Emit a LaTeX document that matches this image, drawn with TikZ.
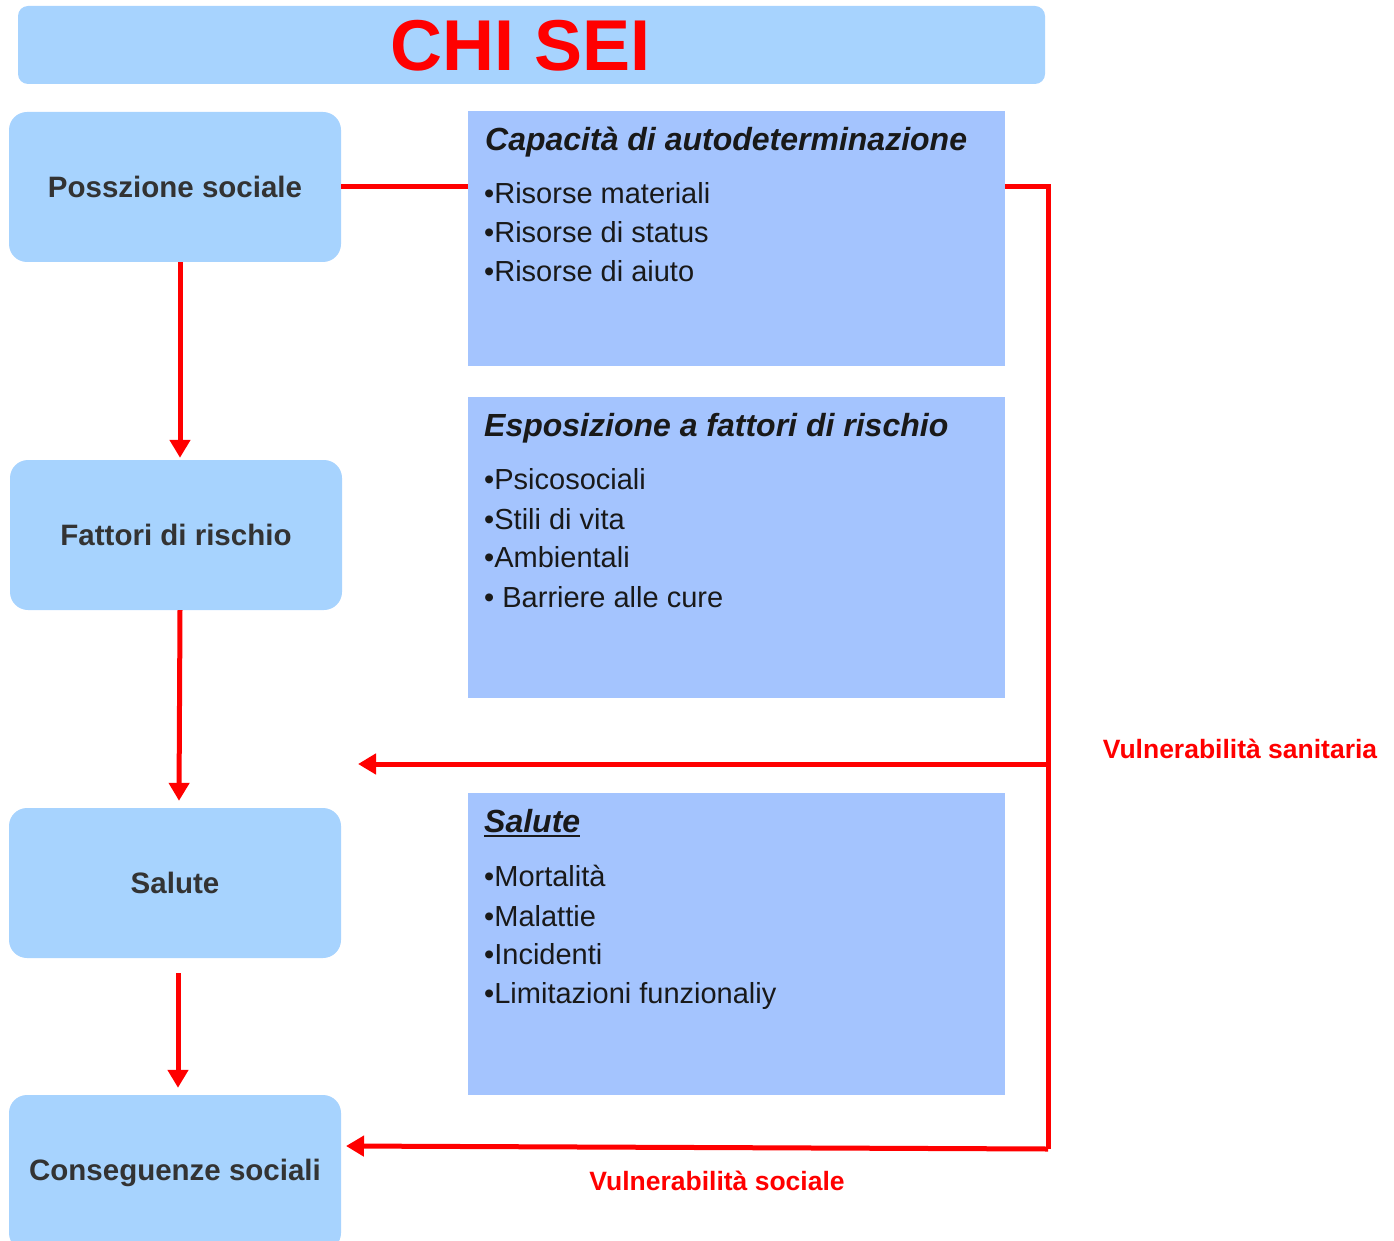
\documentclass[tikz,border=0pt]{standalone}
\usepackage{fontspec}
\setmainfont{Liberation Sans}
\usetikzlibrary{arrows.meta}
\definecolor{boxleft}{HTML}{A7D3FE}
\definecolor{boxright}{HTML}{A4C4FE}
\definecolor{redline}{HTML}{FF0000}
\definecolor{labelgray}{HTML}{333333}
\tikzset{
	sidebox/.style={fill=boxleft, rounded corners=18pt, minimum width=332pt, minimum height=150pt, inner sep=0pt, font=\fontsize{29.5}{33}\selectfont\bfseries, text=labelgray},
	listbox/.style={fill=boxright, minimum width=537pt, inner sep=0pt, anchor=north west},
	listhead/.style={anchor=base west, inner sep=0pt, font=\fontsize{32}{36}\selectfont\bfseries\itshape, text=black!90},
	listitem/.style={anchor=base west, inner sep=0pt, font=\fontsize{29}{33}\selectfont, text=black!90},
	redlink/.style={draw=redline, line width=5pt},
	redarrow/.style={redlink, -{Triangle[length=18pt,width=20pt]}},
	vulnlabel/.style={inner sep=0pt, font=\fontsize{26.5}{30}\selectfont\bfseries, text=redline}
}

\begin{document}
\begin{tikzpicture}[x=1pt, y=-1pt]
			%%%%% START %%%%%
			\useasboundingbox (0, 0) rectangle (1394, 1241);
			
			\node[fill=boxleft, rounded corners=10pt, minimum width=1027pt, minimum height=78pt, inner sep=0pt] (titlebar) at (531.5, 45) {};
			\node[inner sep=0pt, font=\fontsize{72}{80}\selectfont\bfseries, text=redline] (chisei) at (521, 46) {CHI SEI};
			
			\node[sidebox] (posizione) at (175, 187) {Posszione sociale};
			\node[sidebox] (fattori) at (176, 535) {Fattori di rischio};
			\node[sidebox] (salute) at (175, 883) {Salute};
			\node[sidebox, minimum height=156pt] (conseg) at (175, 1173) {Conseguenze sociali};
			
			\node[listbox, minimum height=255pt] (capacita) at (468, 111) {};
			\node[listhead] (caphead) at (485, 151) {Capacità di autodeterminazione};
			\node[listitem] (capa) at (484, 204) {•Risorse materiali};
			\node[listitem] (capb) at (484, 243) {•Risorse di status};
			\node[listitem] (capc) at (484, 281) {•Risorse di aiuto};
			
			\node[listbox, minimum height=301pt] (esposiz) at (468, 397) {};
			\node[listhead] (esphead) at (484, 436) {Esposizione a fattori di rischio};
			\node[listitem] (espa) at (484, 489) {•Psicosociali};
			\node[listitem] (espb) at (484, 529) {•Stili di vita};
			\node[listitem] (espc) at (484, 567) {•Ambientali};
			\node[listitem] (espd) at (484, 607) {• Barriere alle cure};
			
			\node[listbox, minimum height=302pt] (salbox) at (468, 793) {};
			\node[listhead] (salhead) at (484, 832) {Salute};
			\draw[line width=2.5pt, black!90] ([yshift=-4pt]salhead.base west) -- ([yshift=-4pt]salhead.base east);
			\node[listitem] (sala) at (484, 886) {•Mortalità};
			\node[listitem] (salb) at (484, 926) {•Malattie};
			\node[listitem] (salc) at (484, 964) {•Incidenti};
			\node[listitem] (sald) at (484, 1003) {•Limitazioni funzionaliy};
			
			\coordinate (rtop) at (1048, 187);
			\coordinate (rmid) at (1048, 764);
			\coordinate (rbot) at (1048, 1149);
			\coordinate (sanend) at (358, 764);
			\coordinate (socend) at (346, 1146);
			
			\draw[redlink] (posizione.east) -- (posizione.east -| capacita.west);
			\draw[redlink] (posizione.east -| capacita.east) -- (rtop) -- (rbot);
			\draw[redarrow] (rmid) -- (sanend);
			\draw[redarrow] (rbot) -- (socend);
			
			\draw[redarrow] ([xshift=5pt]posizione.south) -- ([xshift=4pt, yshift=2pt]fattori.north);
			\draw[redarrow] ([xshift=4pt]fattori.south) -- ([xshift=4pt, yshift=7pt]salute.north);
			\draw[redarrow] ([xshift=3pt, yshift=-15pt]salute.south) -- ([xshift=3pt, yshift=7pt]conseg.north);
			
			\node[vulnlabel] (vulnsan) at (1240, 749) {Vulnerabilità sanitaria};
			\node[vulnlabel] (vulnsoc) at (717, 1181) {Vulnerabilità sociale};
			%%%%% END %%%%%
\end{tikzpicture}
\end{document}
